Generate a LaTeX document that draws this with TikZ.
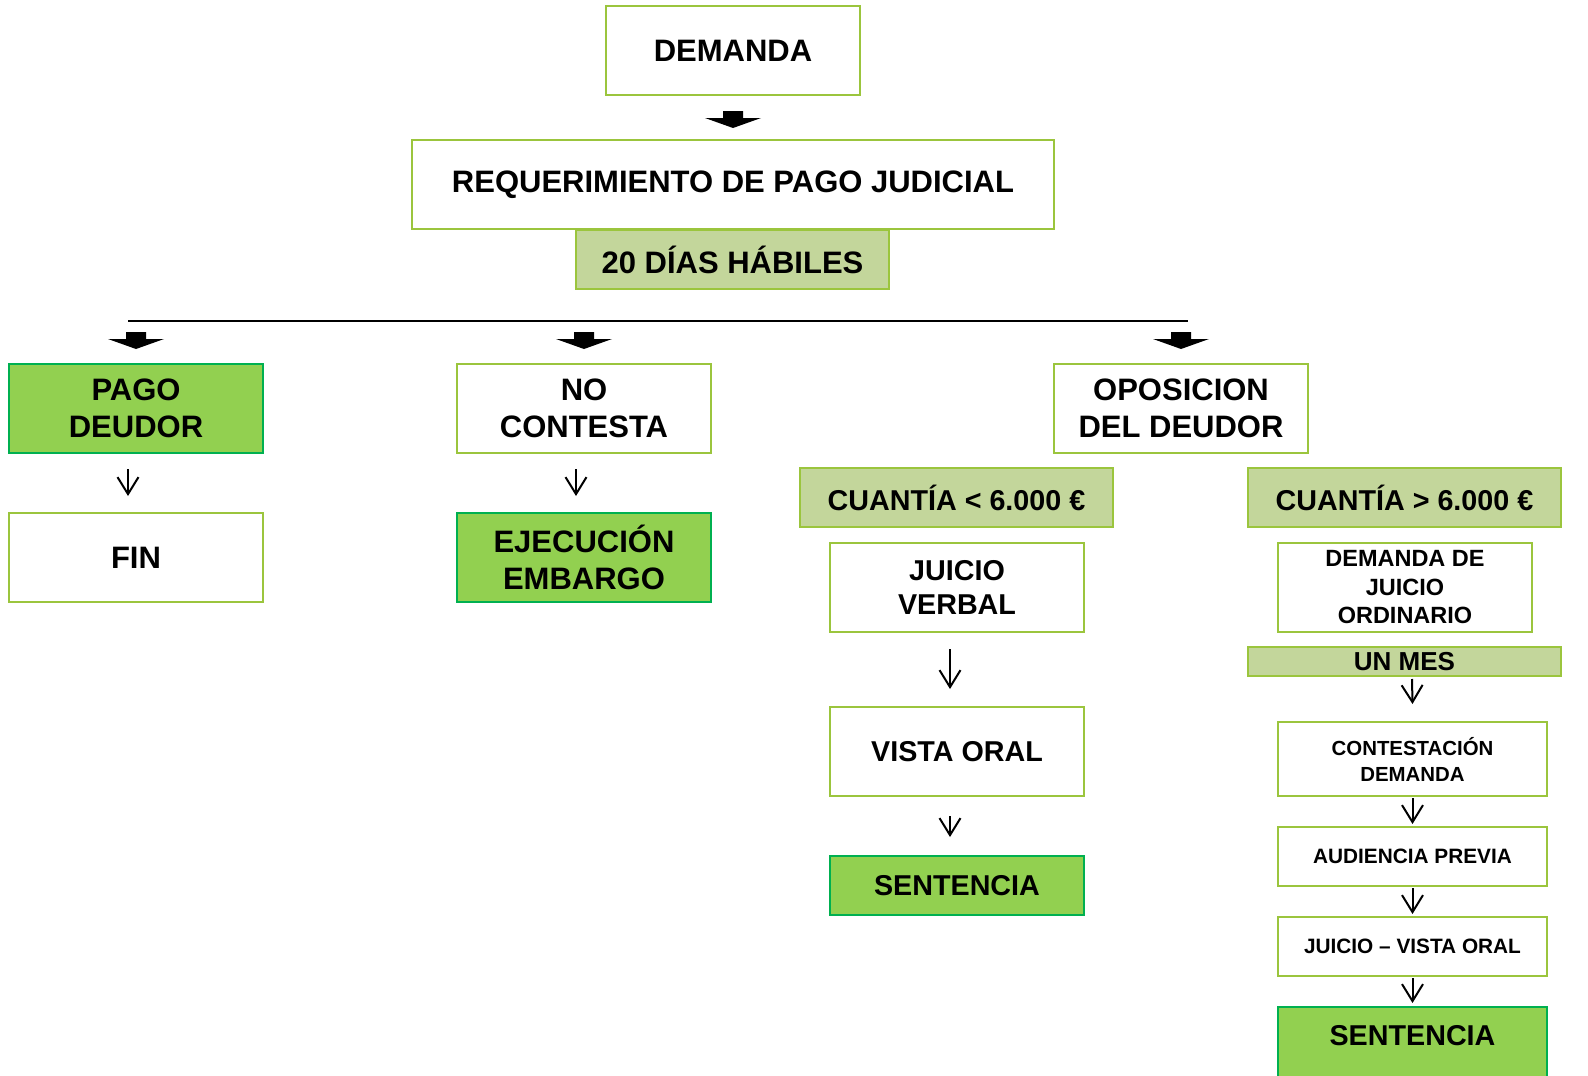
\documentclass[tikz,border=0pt]{standalone}
\usepackage{fontspec}
\setmainfont{Liberation Sans}
\usetikzlibrary{arrows.meta,calc}
\definecolor{limeb}{HTML}{9BC53D}
\definecolor{gfill}{HTML}{92D050}
\definecolor{gborder}{HTML}{00B050}
\definecolor{lfill}{HTML}{C3D69B}
\tikzset{
  box/.style={draw=limeb, line width=2pt, fill=white, inner sep=0pt, align=center,
    minimum width=254, minimum height=89, font=\bfseries\fontsize{31}{37}\selectfont},
  gbox/.style={box, draw=gborder, fill=gfill},
  lbox/.style={box, fill=lfill, minimum width=313, minimum height=59},
  fmid/.style={font=\bfseries\fontsize{28.7}{34.5}\selectfont},
  fsmall/.style={font=\bfseries\fontsize{20.8}{26}\selectfont},
  sarr/.style={line width=2pt, -{Straight Barb[length=17pt,width=21pt,line width=2pt]}},
  barrow/.pic={\fill[black] (-10,0) -- (10,0) -- (10,7) -- (28,7) -- (0,17) -- (-28,7) -- (-10,7) -- cycle;}
}
\begin{document}
\begin{tikzpicture}[x=1pt,y=-1pt]
\useasboundingbox (0,0) rectangle (1588,1076);
% top
\node[box] (dem) at (733,50.5) {DEMANDA};
\node[box, minimum width=642] (req) at (733,184.5) {REQUERIMIENTO DE PAGO JUDICIAL};
\node[lbox] (dias) at (732.5,259.5) {20 DÍAS HÁBILES};
% row
\node[gbox] (pago) at (136,408.5) {PAGO\\DEUDOR};
\node[box] (noc) at (584,408.5) {NO\\CONTESTA};
\node[box] (opo) at (1181,408.5) {OPOSICION\\DEL DEUDOR};
\node[box] (fin) at (136,557.5) {FIN};
\node[gbox] (ejec) at (584,557.5) {EJECUCIÓN\\EMBARGO};
% left branch of opposition
\node[lbox, fmid] (cmen) at (956.5,497.5) {CUANTÍA < 6.000 €};
\node[box, fmid] (jv) at (957,587.5) {JUICIO\\VERBAL};
\node[box, fmid] (vo) at (957,751.5) {VISTA ORAL};
\node[gbox, fmid, minimum height=59] (s1) at (957,885.5) {SENTENCIA};
% right branch of opposition
\node[lbox, fmid] (cmay) at (1404.5,497.5) {CUANTÍA > 6.000 €};
\node[box, font=\bfseries\fontsize{23.5}{28.5}\selectfont] (dju) at (1405,587.5) {DEMANDA DE\\JUICIO\\ORDINARIO};
\node[lbox, minimum height=29, font=\bfseries\fontsize{26}{30}\selectfont] (mes) at (1404.5,661.5) {UN MES};
\node[box, minimum width=269, minimum height=74, font=\bfseries\fontsize{20.4}{26}\selectfont] (cont) at (1412.5,759) {CONTESTACIÓN\\DEMANDA};
\node[box, fsmall, minimum width=269, minimum height=59] (aud) at (1412.5,856.5) {AUDIENCIA PREVIA};
\node[box, fsmall, minimum width=269, minimum height=59] (jvo) at (1412.5,946.5) {JUICIO – VISTA ORAL};
\node[gbox, minimum width=269, minimum height=80, anchor=north] (s2) at (1412.5,1006) {};
\node[fmid, inner sep=0pt] (s2t) at (1412.5,1036) {SENTENCIA};
% block arrows and bar
\pic at ([shift={(0,15)}]dem.south) {barrow};
\coordinate (hl) at (128,321);
\coordinate (hr) at (1188,321);
\draw[line width=2pt] (hl) -- (hr);
\pic at ([shift={(0,-31)}]pago.north) {barrow};
\pic at ([shift={(0,-31)}]noc.north) {barrow};
\pic at ([shift={(0,-31)}]opo.north) {barrow};
% thin arrows
\draw[sarr] ([shift={(-8,15)}]pago.south) -- ([shift={(-8,-16)}]fin.north);
\draw[sarr] ([shift={(-8,15)}]noc.south) -- ([shift={(-8,-16)}]ejec.north);
\draw[sarr] ([shift={(-7,16)}]jv.south) -- ([shift={(-7,-17)}]vo.north);
\draw[sarr] ([shift={(-7,19)}]vo.south) -- ([shift={(-7,-18)}]s1.north);
\draw[sarr] ([shift={(7.5,2)}]mes.south) -- ([shift={(0,-17)}]cont.north);
\draw[sarr] ([shift={(0,1)}]cont.south) -- ([shift={(0,-2)}]aud.north);
\draw[sarr] ([shift={(0,1)}]aud.south) -- ([shift={(0,-2)}]jvo.north);
\draw[sarr] ([shift={(0,1)}]jvo.south) -- ([shift={(0,-3)}]s2.north);
\end{tikzpicture}
\end{document}
